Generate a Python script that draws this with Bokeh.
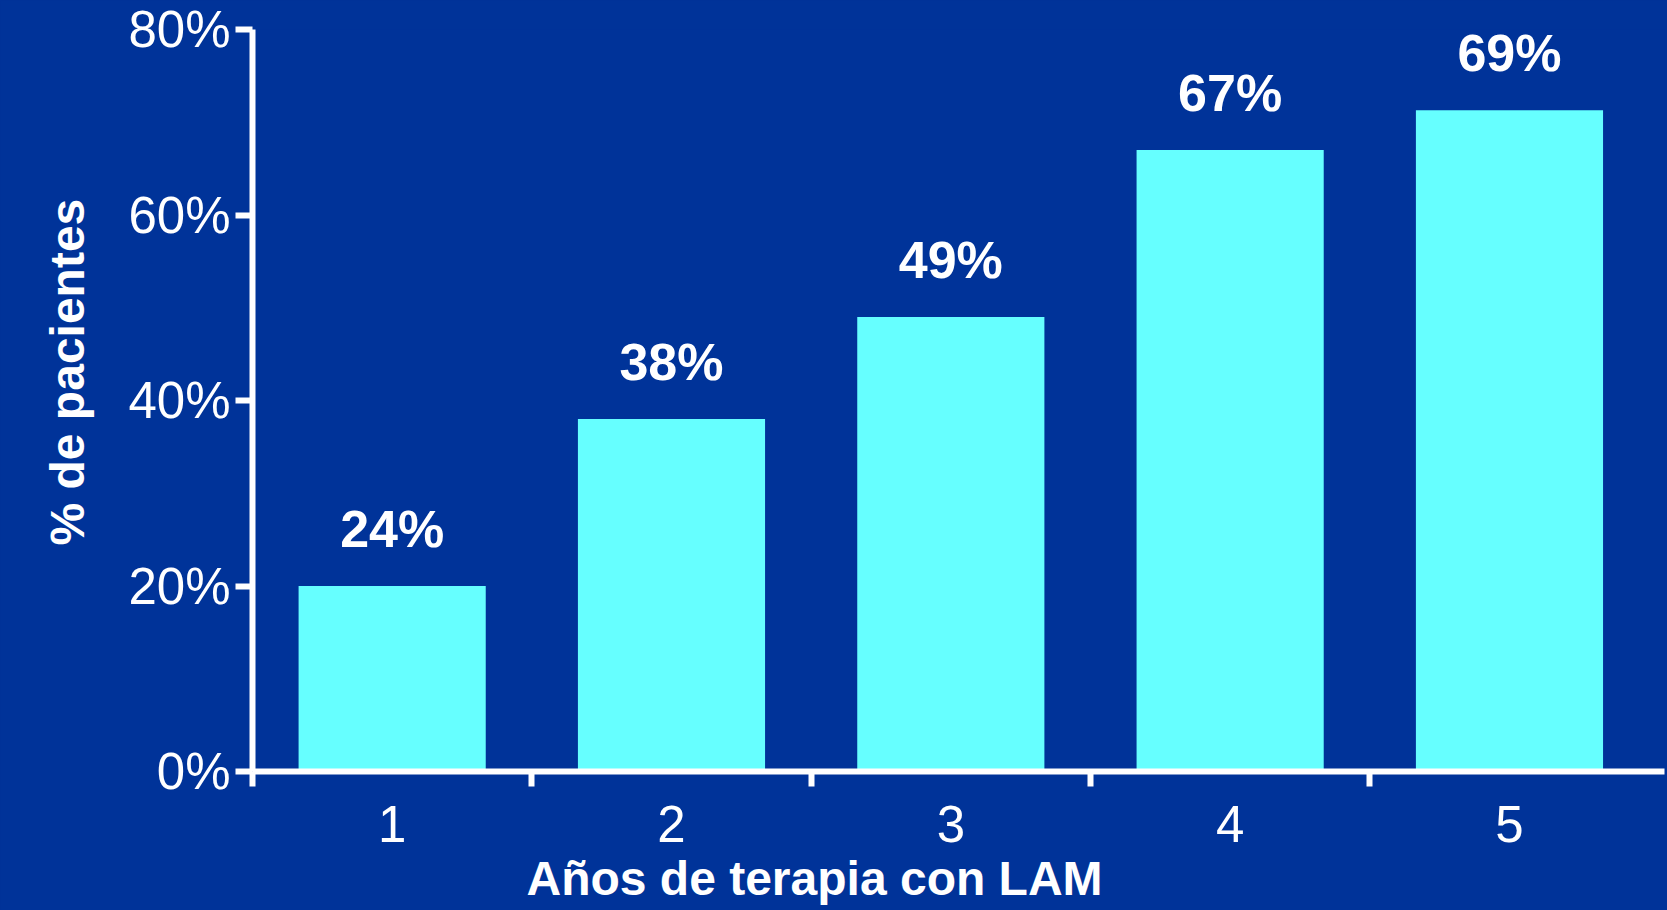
from bokeh.plotting import figure
from bokeh.models import FixedTicker, ColumnDataSource, Range1d, Title, GlobalInlineStyleSheet
from bokeh.core.properties import value
from bokeh.embed import file_html
from bokeh.resources import INLINE

# ---- data ----
years = ["1", "2", "3", "4", "5"]
bar_heights = [20, 38, 49, 67, 71.3]
bar_labels = ["24%", "38%", "49%", "67%", "69%"]
y_ticks = [0, 20, 40, 60, 80]
y_tick_labels = ["0%", "20%", "40%", "60%", "80%"]
x_title = "Años de terapia con LAM"
y_title = "% de pacientes"

BG = "#003399"
BAR = "#66FFFF"
FONT = "Liberation Sans"

xs = [i + 1 for i in range(len(years))]
src = ColumnDataSource(dict(x=xs, top=bar_heights, lab=bar_labels))

p = figure(width=1667, height=910, output_backend="svg", toolbar_location=None,
           x_range=Range1d(0.5, 5.555), y_range=Range1d(0, 80),
           min_border_left=252, min_border_right=3, min_border_top=29,
           min_border_bottom=137)
p.stylesheets = [GlobalInlineStyleSheet(css=f"html, body {{ margin: 0; padding: 0; background: {BG}; overflow: hidden; }}")]
p.background_fill_color = BG
p.border_fill_color = BG
p.outline_line_color = None
p.xgrid.visible = False
p.ygrid.visible = False

p.vbar(x="x", top="top", bottom=0, width=0.67, source=src,
       fill_color=BAR, line_color=None)

p.text(x="x", y="top", text="lab", source=src, text_align="center",
       text_baseline="alphabetic", y_offset=-57, text_color="white",
       text_font=value(FONT), text_font_style="bold", text_font_size="52px")

# y axis
ya = p.yaxis[0]
ya.ticker = FixedTicker(ticks=y_ticks, minor_ticks=[])
ya.major_label_overrides = {t: l for t, l in zip(y_ticks, y_tick_labels)}
ya.axis_line_color = "white"
ya.axis_line_width = 6
ya.major_tick_line_color = "white"
ya.major_tick_line_width = 6
ya.major_tick_out = 17
ya.major_tick_in = 0
ya.minor_tick_line_color = None
ya.major_label_text_color = "white"
ya.major_label_text_font = FONT
ya.major_label_text_font_size = "51px"
ya.major_label_standoff = 5

# x axis
xa = p.xaxis[0]
xa.ticker = FixedTicker(ticks=xs, minor_ticks=[x - 0.5 for x in xs])
xa.major_label_overrides = {x: y for x, y in zip(xs, years)}
xa.axis_line_color = "white"
xa.axis_line_width = 6
xa.major_tick_line_color = None
xa.major_tick_out = 0
xa.major_tick_in = 0
xa.minor_tick_line_color = "white"
xa.minor_tick_line_width = 6
xa.minor_tick_out = 15
xa.minor_tick_in = 0
xa.major_label_text_color = "white"
xa.major_label_text_font = FONT
xa.major_label_text_font_size = "51px"
xa.major_label_standoff = 19

p.add_layout(Title(text=x_title, align="left", offset=274, standoff=11,
                   text_color="white", text_font=FONT, text_font_style="bold",
                   text_font_size="48px"), "below")
p.add_layout(Title(text=y_title, align="left", offset=226, standoff=60,
                   vertical_align="top",
                   text_color="white", text_font=FONT, text_font_style="bold",
                   text_font_size="48px"), "left")

open("out.html", "w").write(file_html(p, INLINE))
